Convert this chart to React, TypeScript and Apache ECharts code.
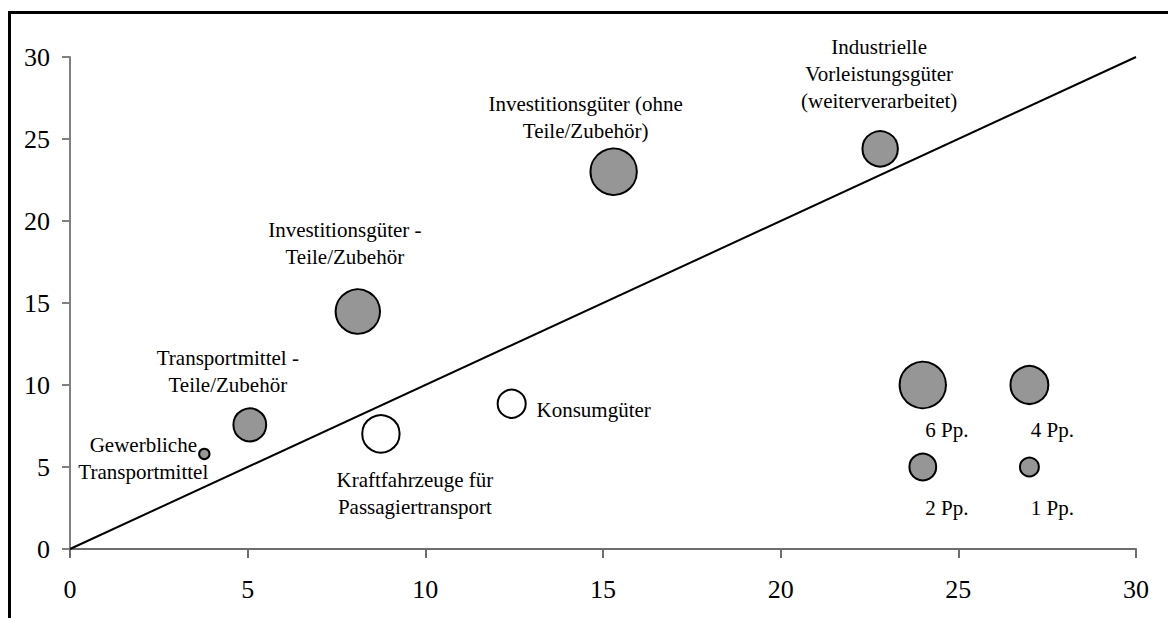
import React, { useEffect, useRef } from "react";
import * as echarts from "echarts";

// Data
const categories = [
  "Gewerbliche\nTransportmittel",
  "Transportmittel -\nTeile/Zubehör",
  "Investitionsgüter -\nTeile/Zubehör",
  "Investitionsgüter (ohne\nTeile/Zubehör)",
  "Industrielle\nVorleistungsgüter\n(weiterverarbeitet)",
  "Kraftfahrzeuge für\nPassagiertransport",
  "Konsumgüter",
];
const xValues = [3.78, 5.06, 8.1, 15.3, 22.8, 8.75, 12.43];
const yValues = [5.8, 7.57, 14.48, 23.0, 24.4, 7.02, 8.86];
const sizeValues = [0.3, 3.0, 5.5, 6.0, 3.5, 3.9, 2.2];
const hollow = [false, false, false, false, false, true, true];

const legendLabels = ["6 Pp.", "4 Pp.", "2 Pp.", "1 Pp."];
const legendX = [24, 27, 24, 27];
const legendY = [10, 10, 5, 5];
const legendSizes = [6, 4, 2, 1];

const diagonal = [
  [0, 0],
  [30, 30],
];
const tickValues = [0, 5, 10, 15, 20, 25, 30];

// label offsets (styling)
const labelOffsets: number[][] = [
  [-61, 5],
  [-22, -53],
  [-13, -68],
  [-28, -54],
  [-1, -75],
  [34, 60],
  [82, 6],
];
const legendOffsets: number[][] = [
  [24, 45],
  [23, 45],
  [24, 41],
  [23, 41],
];

const FONT = "'Liberation Serif', 'Times New Roman', serif";
const sizeToDiameter = (v: number) => 18.94 * Math.sqrt(v);

export default function App() {
  const ref = useRef<HTMLDivElement>(null);
  useEffect(() => {
    if (!ref.current) return;
    const chart = echarts.init(ref.current, undefined, { renderer: "svg" });
    const bubbleData = categories.map((name, i) => ({
      name,
      value: [xValues[i], yValues[i], sizeValues[i]],
      itemStyle: { color: hollow[i] ? "#ffffff" : "#969696" },
      label: { offset: labelOffsets[i] },
    }));
    const legendData = legendLabels.map((name, i) => ({
      name,
      value: [legendX[i], legendY[i], legendSizes[i]],
      label: { offset: legendOffsets[i] },
    }));
    const labelStyle = {
      show: true,
      position: "inside" as const,
      formatter: (p: any) => p.name,
      color: "#000",
      fontFamily: FONT,
      fontSize: 21,
      lineHeight: 27,
      align: "center" as const,
      verticalAlign: "middle" as const,
    };
    chart.setOption({
      animation: false,
      backgroundColor: "#ffffff",
      graphic: [
        {
          type: "rect",
          shape: { x: 9.5, y: 12.5, width: 1300, height: 800 },
          style: { fill: "none", stroke: "#000", lineWidth: 3 },
          silent: true,
          z: 100,
        },
      ],
      grid: { left: 70, right: 32, top: 57, bottom: 69, containLabel: false },
      xAxis: {
        type: "value",
        min: 0,
        max: 30,
        interval: 5,
        splitLine: { show: false },
        axisLine: { lineStyle: { color: "#6e6e6e", width: 2 } },
        axisTick: { show: true, length: 9, lineStyle: { color: "#6e6e6e", width: 2 } },
        axisLabel: {
          color: "#000",
          fontFamily: FONT,
          fontSize: 26,
          margin: 27,
          formatter: (v: number) => (tickValues.includes(v) ? String(v) : ""),
        },
      },
      yAxis: {
        type: "value",
        min: 0,
        max: 30,
        interval: 5,
        splitLine: { show: false },
        axisLine: { show: true, lineStyle: { color: "#808080", width: 2 } },
        axisTick: { show: true, length: 8, lineStyle: { color: "#808080", width: 2 } },
        axisLabel: {
          color: "#000",
          fontFamily: FONT,
          fontSize: 26,
          margin: 20,
          formatter: (v: number) => (tickValues.includes(v) ? String(v) : ""),
        },
      },
      series: [
        {
          type: "line",
          data: diagonal,
          symbol: "none",
          lineStyle: { color: "#000", width: 2 },
          z: 1,
          silent: true,
        },
        {
          type: "scatter",
          data: bubbleData,
          symbolSize: (val: number[]) => sizeToDiameter(val[2]),
          itemStyle: { borderColor: "#000", borderWidth: 2, opacity: 1 },
          label: labelStyle,
          z: 3,
        },
        {
          type: "scatter",
          data: legendData,
          symbolSize: (val: number[]) => sizeToDiameter(val[2]),
          itemStyle: { color: "#969696", borderColor: "#000", borderWidth: 2, opacity: 1 },
          label: labelStyle,
          z: 3,
        },
      ],
    });
    return () => chart.dispose();
  }, []);
  return (
    <div
      ref={ref}
      style={{ position: "fixed", left: 0, top: 0, width: 1168, height: 618, background: "#fff" }}
    />
  );
}
